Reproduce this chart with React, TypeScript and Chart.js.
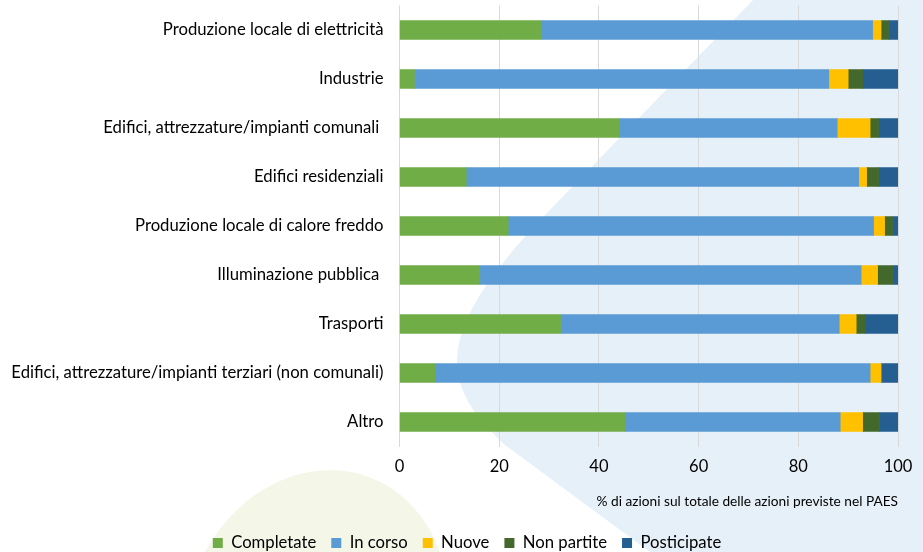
import React, { useEffect, useRef } from "react";
import { Chart, registerables } from "chart.js";

Chart.register(...registerables);

const categories = [
  "Produzione locale di elettricità",
  "Industrie",
  "Edifici, attrezzature/impianti comunali ",
  "Edifici residenziali",
  "Produzione locale di calore freddo",
  "Illuminazione pubblica ",
  "Trasporti",
  "Edifici, attrezzature/impianti terziari (non comunali)",
  "Altro",
];

const completate = [28.4, 3.0, 44.0, 13.4, 21.8, 16.1, 32.3, 7.1, 45.2];
const inCorso = [66.5, 83.1, 43.8, 78.7, 73.3, 76.5, 55.9, 87.3, 43.2];
const nuove = [1.7, 3.9, 6.6, 1.6, 2.2, 3.3, 3.4, 2.2, 4.5];
const nonPartite = [1.5, 2.9, 1.7, 2.4, 1.6, 3.0, 1.8, 0, 3.4];
const posticipate = [1.9, 7.1, 3.9, 3.9, 1.1, 1.1, 6.6, 3.4, 3.7];

const xTicks = [0, 20, 40, 60, 80, 100];
const axisTitle = "% di azioni sul totale delle azioni previste nel PAES";

const FONT = "Lato, 'Open Sans', sans-serif";

const backgroundPlugin = {
  id: "bgShapes",
  afterLayout(chart: any) {
    if (chart.legend) {
      chart.legend.left += 16.5;
      chart.legend.right += 16.5;
    }
  },
  beforeDraw(chart: any) {
    const ctx = chart.ctx;
    ctx.save();
    ctx.fillStyle = "#E6F0F8";
    ctx.beginPath();
    ctx.moveTo(753, 0);
    ctx.lineTo(545, 215);
    ctx.bezierCurveTo(430, 335, 440, 385, 505, 445);
    ctx.lineTo(650, 552);
    ctx.lineTo(923, 552);
    ctx.lineTo(923, 0);
    ctx.closePath();
    ctx.fill();
    ctx.fillStyle = "#F4F6E7";
    ctx.beginPath();
    ctx.moveTo(205, 552);
    ctx.bezierCurveTo(265, 443, 400, 443, 440, 552);
    ctx.closePath();
    ctx.fill();
    ctx.restore();
  },
};

export default function App() {
  const ref = useRef<HTMLCanvasElement>(null);

  useEffect(() => {
    document.body.style.margin = "0";
    const canvas = ref.current!;
    const mk = (label: string, data: number[], color: string) => ({
      label,
      data,
      backgroundColor: color,
      borderWidth: 0,
      barThickness: 19,
    });
    const chart = new Chart(canvas, {
      type: "bar",
      data: {
        labels: categories,
        datasets: [
          mk("Completate", completate, "#70AD47"),
          mk("In corso", inCorso, "#5B9BD5"),
          mk("Nuove", nuove, "#FFC000"),
          mk("Non partite", nonPartite, "#43682B"),
          mk("Posticipate", posticipate, "#255E91"),
        ],
      },
      options: {
        indexAxis: "y",
        responsive: false,
        animation: false,
        layout: { padding: { top: 5.5, right: 22, bottom: -9.35, left: 0 } },
        plugins: {
          legend: {
            position: "bottom",
            labels: {
              boxWidth: 10,
              boxHeight: 10,
              padding: 15,
              color: "#000",
              font: { family: FONT, size: 16.7 },
            },
          },
          tooltip: { enabled: false },
        },
        scales: {
          x: {
            stacked: true,
            min: 0,
            max: 100,
            afterBuildTicks: (scale: any) => {
              scale.ticks = xTicks.map((v) => ({ value: v }));
            },
            afterFit: (scale: any) => {
              scale.height = 73.15;
            },
            grid: { color: "#D9D9D9", drawTicks: false },
            border: { display: false },
            ticks: {
              padding: 10.6,
              color: "#000",
              font: { family: FONT, size: 16.5 },
            },
            title: {
              display: true,
              text: axisTitle,
              align: "end",
              color: "#000",
              padding: { top: 0, bottom: 9.45 },
              font: { family: FONT, size: 13.7 },
            },
          },
          y: {
            stacked: true,
            afterFit: (scale: any) => {
              scale.width = 399.5;
              scale.paddingTop = 0;
              scale.paddingBottom = 0;
            },
            grid: { display: false, drawTicks: false },
            border: { display: false },
            ticks: {
              padding: 16,
              color: "#000",
              font: { family: FONT, size: 16.7 },
            },
          },
        },
      },
      plugins: [backgroundPlugin],
    } as any);
    return () => chart.destroy();
  }, []);

  return (
    <div style={{ position: "absolute", left: 0, top: 0, width: 923, height: 552 }}>
      <canvas ref={ref} width={923} height={552} style={{ width: 923, height: 552 }} />
    </div>
  );
}
